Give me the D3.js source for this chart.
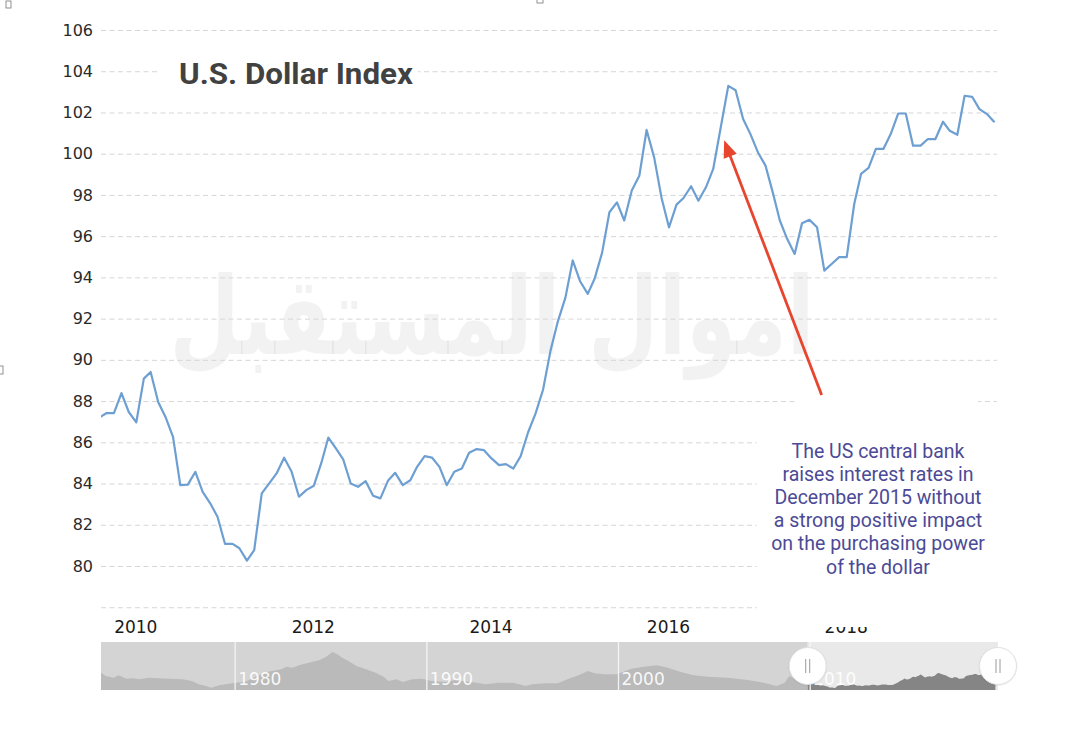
<!DOCTYPE html>
<html><head><meta charset="utf-8">
<script src="https://cdn.jsdelivr.net/npm/d3@7"></script>
<style>
html,body{margin:0;padding:0;background:#fff;}
svg{display:block;}
</style></head><body>
<svg id="chart" width="1080" height="731"></svg>
<script>
// ---------------- DATA ----------------
const chartTitle = "U.S. Dollar Index";
const firstMonth = "2009-08";
const dollarIndex = [
  87.2, 87.42, 87.42, 88.39, 87.47, 86.97, 89.09, 89.41, 87.96, 87.23,
  86.26, 83.92, 83.95, 84.57, 83.6, 83.04, 82.39, 81.07, 81.07, 80.86,
  80.26, 80.77, 83.52, 84.0, 84.49, 85.25, 84.6, 83.36, 83.68, 83.89,
  85.0, 86.23, 85.7, 85.17, 84.0, 83.84, 84.12, 83.41, 83.28, 84.13,
  84.52, 83.92, 84.16, 84.81, 85.33, 85.26, 84.81, 83.92, 84.57, 84.73,
  85.49, 85.67, 85.62, 85.22, 84.89, 84.94, 84.73, 85.33, 86.5, 87.39,
  88.55, 90.46, 91.87, 93.02, 94.82, 93.8, 93.2, 93.93, 95.2, 97.16,
  97.64, 96.76, 98.21, 98.93, 101.15, 99.82, 97.88, 96.43, 97.53, 97.85,
  98.42, 97.72, 98.37, 99.26, 101.28, 103.29, 103.08, 101.68, 100.95, 100.06,
  99.42, 98.21, 96.76, 95.87, 95.14, 96.62, 96.79, 96.43, 94.33, 94.66,
  94.98, 94.98, 97.56, 99.02, 99.31, 100.23, 100.23, 100.95, 101.95, 101.95,
  100.39, 100.39, 100.71, 100.71, 101.55, 101.11, 100.92, 102.81, 102.76, 102.16,
  101.92, 101.52
];
const yGridTicks = [78, 80, 82, 84, 86, 88, 90, 92, 94, 96, 98, 100, 102, 104, 106];
const yLabelTicks = [80, 82, 84, 86, 88, 90, 92, 94, 96, 98, 100, 102, 104, 106];
const xTickYears = [2010, 2012, 2014, 2016, 2018];

const navHistoryDates = ["1973-01","1973-04","1973-09","1973-12","1974-05","1974-09","1975-01","1975-07","1976-01","1976-08",
  "1977-04","1977-10","1978-02","1978-07","1978-10","1979-03","1979-07","1980-01","1980-07","1981-03",
  "1981-09","1982-06","1982-09","1983-01","1983-05","1983-11","1984-06","1984-10","1985-02","1985-05",
  "1985-08","1985-12","1986-05","1986-11","1987-05","1987-10","1988-01","1988-06","1988-10","1989-04",
  "1989-10","1990-04","1991-01","1991-07","1992-08","1993-02","1993-10","1994-07","1995-03","1995-07",
  "1996-03","1996-11","1997-05","1997-12","1998-06","1998-10","1999-04","1999-12","2000-09","2001-05",
  "2002-01","2002-08","2003-04","2003-12","2004-09","2005-09","2006-10","2007-08","2008-04","2008-09",
  "2008-12","2009-04"];
const navHistoryValues = [103.8, 98.7, 96.1, 99.8, 94.6, 95.2, 93.6, 96.1, 95.2, 94.6,
  93.6, 91.0, 86.0, 83.4, 80.8, 84.4, 86.0, 88.4, 89.5, 98.7,
  104.8, 109.0, 113.0, 111.4, 115.1, 119.1, 123.2, 128.3, 135.5, 132.0,
  126.8, 121.7, 114.0, 109.0, 103.8, 97.6, 91.0, 93.6, 89.5, 93.6,
  94.6, 91.0, 89.5, 92.6, 88.4, 86.0, 88.4, 88.4, 83.4, 86.0,
  87.5, 87.5, 93.6, 99.8, 106.4, 102.8, 101.3, 101.3, 109.9, 113.0,
  115.1, 111.4, 104.8, 99.8, 97.6, 96.1, 92.6, 88.4, 83.4, 88.4,
  98.7, 92.6];
const navLabelYears = [1980, 1990, 2000, 2010];
const navigatorSelection = ["2009-11-15", "2019-10-20"];

const annotationLines = [
  "The US central bank",
  "raises interest rates in",
  "December 2015 without",
  "a strong positive impact",
  "on the purchasing power",
  "of the dollar"
];
const arrowTail = {date: "2017-09-20", value: 88.3};
const arrowTip = {date: "2016-08-15", value: 100.65};
const watermarkText = "اموال المستقبل";

// ---------------- LAYOUT ----------------
const W = 1080, H = 731;
const plot = {left: 101, right: 997, top: 30, bottom: 607};
const parseMonth = d3.timeParse("%Y-%m");
const parseDay = d3.timeParse("%Y-%m-%d");

const svg = d3.select("#chart");
svg.append("rect").attr("width", W).attr("height", H).attr("fill", "#fff");

// main scales
const xRef = d3.scaleTime().domain([new Date(2010, 0, 1), new Date(2018, 0, 1)]).range([136.3, 846.7]);
const x = d3.scaleTime().domain([xRef.invert(plot.left), xRef.invert(plot.right)]).range([plot.left, plot.right]);
const y = d3.scaleLinear().domain([80, 106]).range([566, 30]);

const start = parseMonth(firstMonth);
const series = dollarIndex.map((v, i) => ({date: d3.timeMonth.offset(start, i), value: v}));

// watermark
const wm = svg.append("text")
  .attr("x", 0).attr("y", 0)
  .attr("font-family", "DejaVu Sans")
  .attr("font-weight", "bold")
  .attr("font-size", 100)
  .attr("fill", "#000").attr("fill-opacity", 0.05)
  .attr("text-anchor", "middle")
  .text(watermarkText);
const wmLen = wm.node().getComputedTextLength() || 645;
wm.attr("transform", `translate(492,354) scale(${645 / wmLen},1.08)`);

// gridlines
const grid = svg.append("g").attr("transform", `translate(${plot.left},0)`)
  .call(d3.axisLeft(y).tickValues(yGridTicks).tickSize(-(plot.right - plot.left)).tickFormat(""));
grid.select(".domain").remove();
grid.selectAll("line").attr("stroke", "#d6d6d6").attr("stroke-width", 1).attr("stroke-dasharray", "5,3.5");

// y labels
const yAx = svg.append("g").attr("transform", `translate(93,0)`)
  .call(d3.axisLeft(y).tickValues(yLabelTicks).tickSize(0).tickPadding(0).tickFormat(d3.format("d")));
yAx.select(".domain").remove();
yAx.selectAll("text").attr("font-family", "DejaVu Sans").attr("font-size", 16).attr("fill", "#2a2a2a");

// x labels
const xAx = svg.append("g").attr("transform", `translate(-1,620.5)`)
  .call(d3.axisBottom(x).tickValues(xTickYears.map(yr => new Date(yr, 0, 1))).tickSize(0).tickPadding(0).tickFormat(d3.timeFormat("%Y")));
xAx.select(".domain").remove();
xAx.selectAll("text").attr("font-family", "DejaVu Sans").attr("font-size", 17).attr("fill", "#1a1a1a").attr("dy", "0.71em");

// clip + line
svg.append("clipPath").attr("id", "plotClip").append("rect")
  .attr("x", plot.left).attr("y", 0).attr("width", plot.right - plot.left).attr("height", plot.bottom);
svg.append("path").datum(series)
  .attr("clip-path", "url(#plotClip)")
  .attr("fill", "none").attr("stroke", "#6d9fd2").attr("stroke-width", 2.2)
  .attr("stroke-linejoin", "round")
  .attr("d", d3.line().x(d => x(d.date)).y(d => y(d.value)));

// title with white backing
svg.append("rect").attr("x", 160).attr("y", 52).attr("width", 258).attr("height", 40).attr("fill", "#fff");
svg.append("text").attr("x", 179).attr("y", 84)
  .attr("font-family", "Roboto").attr("font-weight", 700).attr("font-size", 29)
  .attr("fill", "#414141")
  .attr("textLength", 234).attr("lengthAdjust", "spacingAndGlyphs")
  .text(chartTitle);

// ---------------- NAVIGATOR ----------------
const nav = {left: 101, right: 998, top: 642, bottom: 690};
const navX = d3.scaleTime().domain([new Date(1973, 0, 1), new Date(2019, 9, 20)]).range([nav.left, nav.right]);
const navY = d3.scaleLinear().domain([77.2, 150.9]).range([nav.bottom, nav.top]);
const navData = navHistoryDates.map((d, i) => ({date: parseMonth(d), value: navHistoryValues[i]})).concat(series);
const selStart = navX(parseDay(navigatorSelection[0]));
const selEnd = navX(parseDay(navigatorSelection[1]));

svg.append("rect").attr("x", nav.left).attr("y", nav.top).attr("width", selStart - nav.left).attr("height", nav.bottom - nav.top).attr("fill", "#d4d4d4");
svg.append("rect").attr("x", selStart).attr("y", nav.top).attr("width", nav.right - selStart).attr("height", nav.bottom - nav.top).attr("fill", "#e9e9e9");

svg.append("clipPath").attr("id", "navLeft").append("rect").attr("x", nav.left).attr("y", nav.top).attr("width", selStart - nav.left).attr("height", nav.bottom - nav.top);
svg.append("clipPath").attr("id", "navRight").append("rect").attr("x", selStart).attr("y", nav.top).attr("width", nav.right - selStart).attr("height", nav.bottom - nav.top);
const navArea = d3.area().x(d => navX(d.date)).y0(nav.bottom).y1(d => navY(d.value));
svg.append("path").datum(navData).attr("clip-path", "url(#navLeft)").attr("fill", "#bababa").attr("d", navArea);
svg.append("path").datum(navData).attr("clip-path", "url(#navRight)").attr("fill", "#858585").attr("d", navArea);

// separators & labels
navLabelYears.forEach(yr => {
  const xx = navX(new Date(yr, 0, 1));
  svg.append("line").attr("x1", xx).attr("x2", xx).attr("y1", nav.top).attr("y2", nav.bottom)
    .attr("stroke", "#f4f4f4").attr("stroke-width", 1.3);
  svg.append("text").attr("x", xx + 3).attr("y", 685)
    .attr("font-family", "DejaVu Sans").attr("font-size", 17).attr("fill", "#fff").attr("fill-opacity", 0.92)
    .text(yr);
});

// handles
[selStart, selEnd].forEach(hx => {
  svg.append("circle").attr("cx", hx).attr("cy", 666.5).attr("r", 19.5)
    .attr("fill", "#000").attr("fill-opacity", 0.06);
  svg.append("circle").attr("cx", hx).attr("cy", 666).attr("r", 18.5)
    .attr("fill", "#fff").attr("stroke", "#e2e2e2").attr("stroke-width", 1);
  [-2, 2].forEach(dx => {
    svg.append("line").attr("x1", hx + dx).attr("x2", hx + dx).attr("y1", 659).attr("y2", 673)
      .attr("stroke", "#9a9a9a").attr("stroke-width", 1);
  });
});

// ---------------- ANNOTATION ----------------
svg.append("rect").attr("x", 757).attr("y", 408).attr("width", 250).attr("height", 219).attr("fill", "#fff");
svg.append("rect").attr("x", 797).attr("y", 398).attr("width", 181).attr("height", 14).attr("fill", "#fff");

const ann = svg.append("text").attr("font-family", "Roboto").attr("font-size", 19.5)
  .attr("fill", "#4c4a96").attr("text-anchor", "middle");
annotationLines.forEach((l, i) => {
  ann.append("tspan").attr("x", 878).attr("y", 457.5 + i * 23.2).text(l);
});

// arrow
const tx = x(parseDay(arrowTip.date)), ty = y(arrowTip.value);
const sx = x(parseDay(arrowTail.date)), sy = y(arrowTail.value);
const dx = tx - sx, dy = ty - sy, len = Math.hypot(dx, dy);
const ux = dx / len, uy = dy / len;
const headLen = 17, headHalf = 7;
const bx = tx - ux * headLen, by = ty - uy * headLen;
svg.append("line").attr("x1", sx).attr("y1", sy).attr("x2", bx + ux * 2).attr("y2", by + uy * 2)
  .attr("stroke", "#e8452f").attr("stroke-width", 2.8);
svg.append("path")
  .attr("d", `M${tx},${ty} L${bx - uy * headHalf},${by + ux * headHalf} L${bx + uy * headHalf},${by - ux * headHalf} Z`)
  .attr("fill", "#e8452f");

// small screenshot artefacts
[[6, 1, 5, 7], [537, -2, 6, 5], [-1, 366, 4, 8]].forEach(r => {
  svg.append("rect").attr("x", r[0]).attr("y", r[1]).attr("width", r[2]).attr("height", r[3])
    .attr("fill", "none").attr("stroke", "#777").attr("stroke-width", 0.8);
});
</script>
</body></html>
